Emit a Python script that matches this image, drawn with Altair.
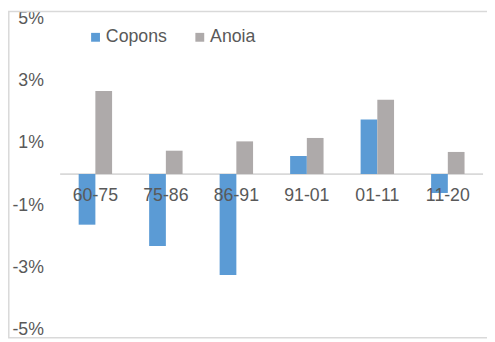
import altair as alt
import pandas as pd

periods = ["60-75", "75-86", "86-91", "91-01", "01-11", "11-20"]
series = ["Copons", "Anoia"]
copons = [-1.63, -2.32, -3.25, 0.58, 1.75, -0.61]
anoia = [2.67, 0.75, 1.05, 1.16, 2.39, 0.71]
y_ticks = [-5, -3, -1, 1, 3, 5]
colors = ["#5b9bd5", "#aeaaaa"]

rows = []
for p, c, a in zip(periods, copons, anoia):
    rows.append({"period": p, "series": "Copons", "value": c})
    rows.append({"period": p, "series": "Anoia", "value": a})
df = pd.DataFrame(rows)
lab = pd.DataFrame({"period": periods})
zero = pd.DataFrame({"z": [0]})

FONT = "Liberation Sans"
TXT = "#595959"
W, H = 430, 316

xscale = alt.Scale(domain=periods, paddingInner=0.526, paddingOuter=0.263)
yscale = alt.Scale(domain=[-5, 5], nice=False)

frame = alt.Chart(zero).mark_rect(fill="transparent", stroke="#d9d9d9", strokeWidth=1.5).encode(
    x=alt.value(-52.2), x2=alt.value(440), y=alt.value(-7.2), y2=alt.value(324.5)
)

rule = alt.Chart(zero).mark_rule(color="#d9d9d9", strokeWidth=1.8).encode(
    y=alt.Y("z:Q", scale=yscale), x=alt.value(0), x2=alt.value(W)
)

bars = alt.Chart(df).mark_bar(size=17).encode(
    x=alt.X("period:N", sort=periods, scale=xscale, axis=None),
    xOffset=alt.XOffset("series:N", sort=series,
                        scale=alt.Scale(domain=series, paddingInner=0, paddingOuter=0)),
    y=alt.Y("value:Q", scale=yscale, title=None,
            axis=alt.Axis(values=y_ticks, labelExpr="datum.value + '%'", domain=False,
                          ticks=False, grid=False, labelPadding=17, labelFontSize=18,
                          labelColor=TXT, labelFont=FONT)),
    color=alt.Color("series:N", sort=series,
                    scale=alt.Scale(domain=series, range=colors),
                    legend=alt.Legend(title=None, orient="none", direction="horizontal",
                                      legendX=27, legendY=10, symbolType="square",
                                      symbolSize=81, symbolStrokeWidth=0, labelFontSize=18,
                                      labelColor=TXT, labelFont=FONT, labelOffset=1.5,
                                      columnPadding=24)),
)

labels = alt.Chart(lab).mark_text(dy=22, fontSize=18, color=TXT, font=FONT).encode(
    x=alt.X("period:N", sort=periods, scale=xscale, axis=None),
    y=alt.datum(0),
    text="period:N",
)

chart = alt.layer(frame, rule, bars, labels).properties(
    width=W, height=H,
    autosize=alt.AutoSizeParams(type="none"),
    padding={"left": 53, "top": 8, "right": 4, "bottom": 10},
).configure_view(strokeWidth=0)

chart.save("out.html", embed_options={"renderer": "svg", "actions": False})
